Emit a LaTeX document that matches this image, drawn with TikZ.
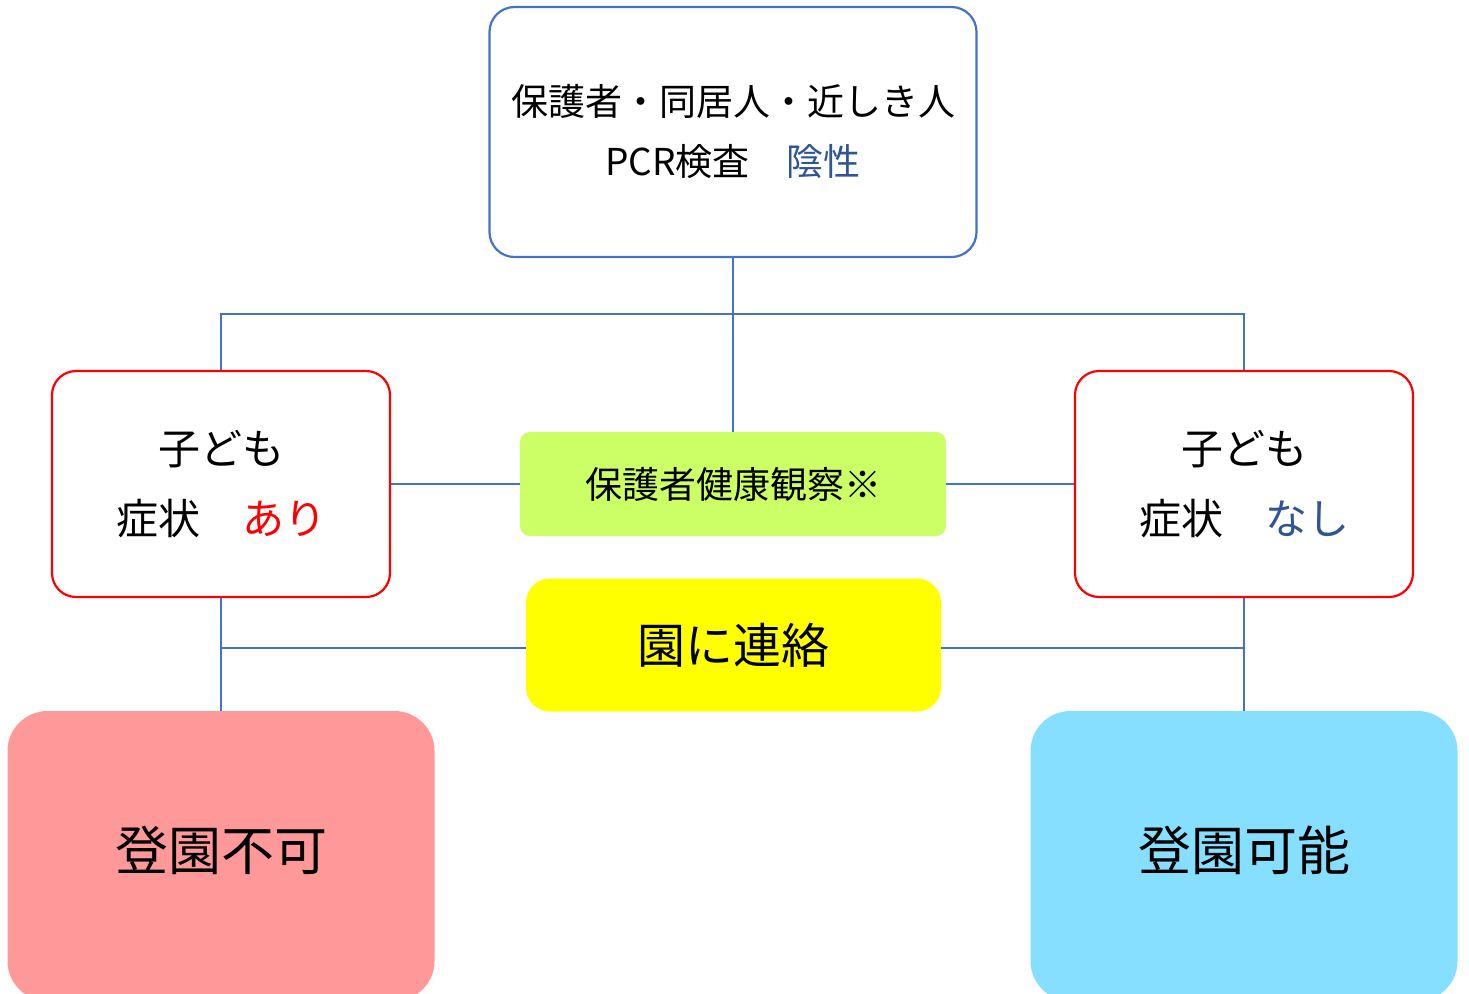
\documentclass[tikz,border=0pt]{standalone}
\usepackage{fontspec}
\newfontfamily\jpfont{Noto Sans CJK JP}
\usetikzlibrary{positioning}
\definecolor{lineblue}{HTML}{4472C4}
\definecolor{textblue}{HTML}{2F5597}
\definecolor{watchgreen}{HTML}{CCFF66}
\definecolor{callyellow}{HTML}{FFFF00}
\definecolor{stoppink}{HTML}{FF9999}
\definecolor{goblue}{HTML}{87DFFF}

\begin{document}
\begin{tikzpicture}[
    x=0.5pt,
    y=-0.5pt,
    font=\jpfont,
    link/.style={draw=lineblue, line width=1.2pt},
    pcrbox/.style={draw=lineblue, line width=1.1pt, fill=white, rounded corners=12.5pt,
      minimum width=243.5pt, minimum height=125pt, align=center,
      font=\jpfont\fontsize{18.5}{30}\selectfont},
    childbox/.style={draw=red, line width=1.1pt, fill=white, rounded corners=12pt,
      minimum width=169pt, minimum height=113pt, align=center,
      font=\jpfont\fontsize{21}{35}\selectfont},
    watchbox/.style={fill=watchgreen, rounded corners=5pt,
      minimum width=213pt, minimum height=52pt,
      font=\jpfont\fontsize{18.5}{22}\selectfont},
    callbox/.style={fill=callyellow, rounded corners=12pt,
      minimum width=207.5pt, minimum height=66.5pt,
      font=\jpfont\fontsize{24}{28}\selectfont},
    resultbox/.style={rounded corners=20pt, minimum width=213.5pt, minimum height=145pt},
    resulttext/.style={font=\jpfont\fontsize{26.5}{30}\selectfont}
  ]

  \useasboundingbox (0,0) rectangle (1469,993);

  % --- BOXES ---
  \node[pcrbox] (pcr) at (733,132) {保護者・同居人・近しき人\\PCR検査　\textcolor{textblue}{陰性}};
  \node[childbox] (sick) at (221,484) {子ども\\症状　\textcolor{red}{あり}};
  \node[childbox] (well) at (1244,484) {子ども\\症状　\textcolor{textblue}{なし}};
  \node[watchbox] (watch) at (733,484) {保護者健康観察※};
  \node[callbox] (call) at (733.5,645) {園に連絡};
  \node[resultbox, fill=stoppink] (stop) at (221,856) {};
  \node[resultbox, fill=goblue] (go) at (1244,856) {};
  \node[resulttext] (stoptext) at (221,850) {登園不可};
  \node[resulttext] (gotext) at (1244,850) {登園可能};

  % --- CONNECTORS ---
  \coordinate (bar) at (733,314);
  \draw[link] (pcr.south) -- (bar);
  \draw[link] (sick.north) |- (bar) -| (well.north);
  \draw[link] (bar) -- (watch.north);
  \draw[link] (sick.east) -- (watch.west);
  \draw[link] (watch.east) -- (well.west);

  \draw[link] (sick.south) -- (stop.north);
  \draw[link] (well.south) -- (go.north);
  \coordinate (callin) at ([yshift=-1.5pt]call.west);
  \coordinate (callout) at ([yshift=-1.5pt]call.east);
  \draw[link] (callin) -- (sick.south |- callin);
  \draw[link] (callout) -- (well.south |- callout);

\end{tikzpicture}
\end{document}
